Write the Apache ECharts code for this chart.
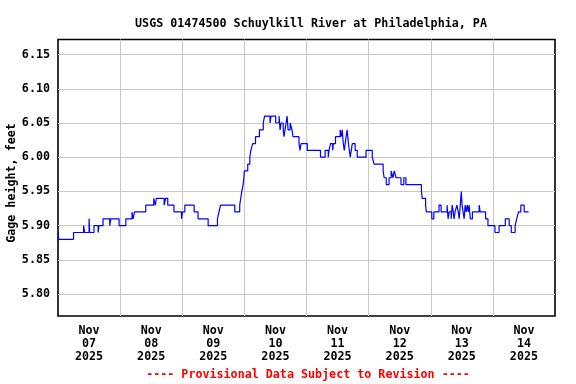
<!DOCTYPE html>
<html>
<head>
<meta charset="utf-8">
<script src="https://cdn.jsdelivr.net/npm/echarts@6/dist/echarts.min.js"></script>
<style>html,body{margin:0;padding:0;background:#fff}#c{width:576px;height:384px}</style>
</head>
<body>
<div id="c"></div>
<script>
// Hours since Nov 07 2025 00:00 at which the gage height changes level
var hours = [0, 0.25, 6.0, 9.9, 10.3, 12.0, 12.25, 13.9, 15.5, 15.85, 17.4, 20.0, 20.4, 23.6, 26.2, 28.6, 29.0, 29.6, 33.9, 37.0, 37.6, 38.0, 41.0, 41.6, 42.4, 44.8, 47.7, 48.1, 49.0, 52.6, 54.1, 58.0, 61.6, 62.2, 62.8, 68.3, 70.2, 70.6, 71.0, 71.5, 71.8, 72.0, 73.3, 74.1, 74.5, 75.2, 76.3, 77.8, 79.3, 79.8, 81.9, 82.3, 84.1, 85.4, 85.8, 86.2, 87.0, 87.3, 87.7, 88.1, 88.5, 88.9, 89.7, 90.4, 90.8, 93.1, 93.5, 93.9, 96.3, 101.4, 103.2, 104.4, 104.7, 105.3, 106.1, 106.4, 107.2, 109.0, 109.4, 109.8, 110.2, 110.6, 111.3, 111.7, 112.2, 112.9, 113.3, 113.7, 114.8, 115.6, 119.0, 121.4, 122.1, 125.6, 126.0, 126.8, 127.9, 128.7, 129.4, 129.9, 130.6, 132.5, 133.6, 134.4, 140.4, 140.7, 142.0, 142.3, 144.4, 145.2, 147.2, 148.0, 150.3, 150.7, 151.1, 151.9, 152.3, 152.7, 153.0, 153.4, 154.1, 154.6, 155.0, 155.4, 155.8, 156.1, 156.5, 156.9, 157.3, 157.7, 158.1, 158.5, 158.8, 159.3, 160.1, 162.7, 163.1, 165.2, 166.1, 168.8, 170.4, 172.8, 174.3, 175.1, 176.6, 177.2, 177.9, 178.8, 180.1, 181.8];
// Gage height, feet
var stage = [5.89, 5.88, 5.89, 5.90, 5.89, 5.91, 5.89, 5.90, 5.89, 5.90, 5.91, 5.90, 5.91, 5.90, 5.91, 5.92, 5.91, 5.92, 5.93, 5.94, 5.93, 5.94, 5.93, 5.94, 5.93, 5.92, 5.91, 5.92, 5.93, 5.92, 5.91, 5.90, 5.91, 5.92, 5.93, 5.92, 5.93, 5.94, 5.95, 5.96, 5.97, 5.98, 5.99, 6.00, 6.01, 6.02, 6.03, 6.04, 6.05, 6.06, 6.05, 6.06, 6.05, 6.06, 6.04, 6.05, 6.04, 6.03, 6.04, 6.05, 6.06, 6.04, 6.05, 6.04, 6.03, 6.02, 6.01, 6.02, 6.01, 6.00, 6.01, 6.00, 6.01, 6.02, 6.01, 6.02, 6.03, 6.04, 6.03, 6.04, 6.02, 6.01, 6.03, 6.04, 6.02, 6.00, 6.01, 6.02, 6.01, 6.00, 6.01, 6.00, 5.99, 5.98, 5.97, 5.96, 5.97, 5.98, 5.97, 5.98, 5.97, 5.96, 5.97, 5.96, 5.95, 5.94, 5.93, 5.92, 5.91, 5.92, 5.93, 5.92, 5.93, 5.91, 5.92, 5.91, 5.93, 5.92, 5.91, 5.92, 5.93, 5.92, 5.91, 5.93, 5.95, 5.93, 5.92, 5.91, 5.93, 5.92, 5.93, 5.92, 5.93, 5.91, 5.92, 5.93, 5.92, 5.91, 5.90, 5.89, 5.90, 5.91, 5.90, 5.89, 5.90, 5.91, 5.92, 5.93, 5.92, 5.92];
// Day labels, centred at noon of each day
var dayLabels = ['Nov\n07\n2025', 'Nov\n08\n2025', 'Nov\n09\n2025', 'Nov\n10\n2025', 'Nov\n11\n2025', 'Nov\n12\n2025', 'Nov\n13\n2025', 'Nov\n14\n2025'];
var titleText = 'USGS 01474500 Schuylkill River at Philadelphia, PA';
var yName = 'Gage height, feet';
var footer = '---- Provisional Data Subject to Revision ----';

var FONT = '"DejaVu Sans Mono", monospace';
var data = hours.map(function (h, i) { return [h, stage[i]]; });

var chart = echarts.init(document.getElementById('c'), null, {renderer: 'canvas'});
chart.setOption({
  backgroundColor: '#ffffff',
  animation: false,
  title: {
    text: titleText, left: 306, top: 13, textAlign: 'center',
    textStyle: {fontFamily: FONT, fontSize: 11.7, fontWeight: 'bold', color: '#000'}
  },
  grid: {left: 58, right: 21, top: 39.5, bottom: 68, show: true, borderColor: '#000', borderWidth: 1.6, backgroundColor: 'transparent'},
  xAxis: [{
    type: 'value', min: 0, max: 192, interval: 24,
    axisLine: {show: false}, axisTick: {show: false}, axisLabel: {show: false},
    splitLine: {show: true, showMinLine: false, showMaxLine: false, lineStyle: {color: '#c8c8c8', width: 1}}
  }, {
    type: 'value', min: 0, max: 192, interval: 12, position: 'bottom',
    axisLine: {show: false}, axisTick: {show: false}, splitLine: {show: false},
    axisLabel: {
      show: true, margin: 8, lineHeight: 13,
      fontFamily: FONT, fontSize: 11.7, fontWeight: 'bold', color: '#000',
      formatter: function (v) { return (v % 24 === 12) ? dayLabels[(v - 12) / 24] : ''; }
    }
  }],
  yAxis: {
    type: 'value', min: 5.768, max: 6.172, splitNumber: 8,
    axisLine: {show: false}, axisTick: {show: false},
    axisLabel: {
      margin: 8, showMinLabel: false, showMaxLabel: false,
      fontFamily: FONT, fontSize: 11.7, fontWeight: 'bold', color: '#000',
      formatter: function (v) { return v.toFixed(2); }
    },
    splitLine: {show: true, showMinLine: false, showMaxLine: false, lineStyle: {color: '#c8c8c8', width: 1}}
  },
  graphic: [{
    type: 'text', x: 12, y: 183, rotation: Math.PI / 2,
    style: {text: yName, fontFamily: FONT, fontSize: 11.7, fontWeight: 'bold', fill: '#000', align: 'center', verticalAlign: 'middle'}
  }, {
    type: 'text', x: 308, y: 375,
    style: {text: footer, fontFamily: FONT, fontSize: 11.7, fontWeight: 'bold', fill: '#ff0000', align: 'center', verticalAlign: 'middle'}
  }],
  series: [{
    type: 'line', xAxisIndex: 0, data: data, step: 'end',
    showSymbol: false, symbol: 'none',
    lineStyle: {color: '#0000ff', width: 1.2}
  }]
});
</script>
</body>
</html>
